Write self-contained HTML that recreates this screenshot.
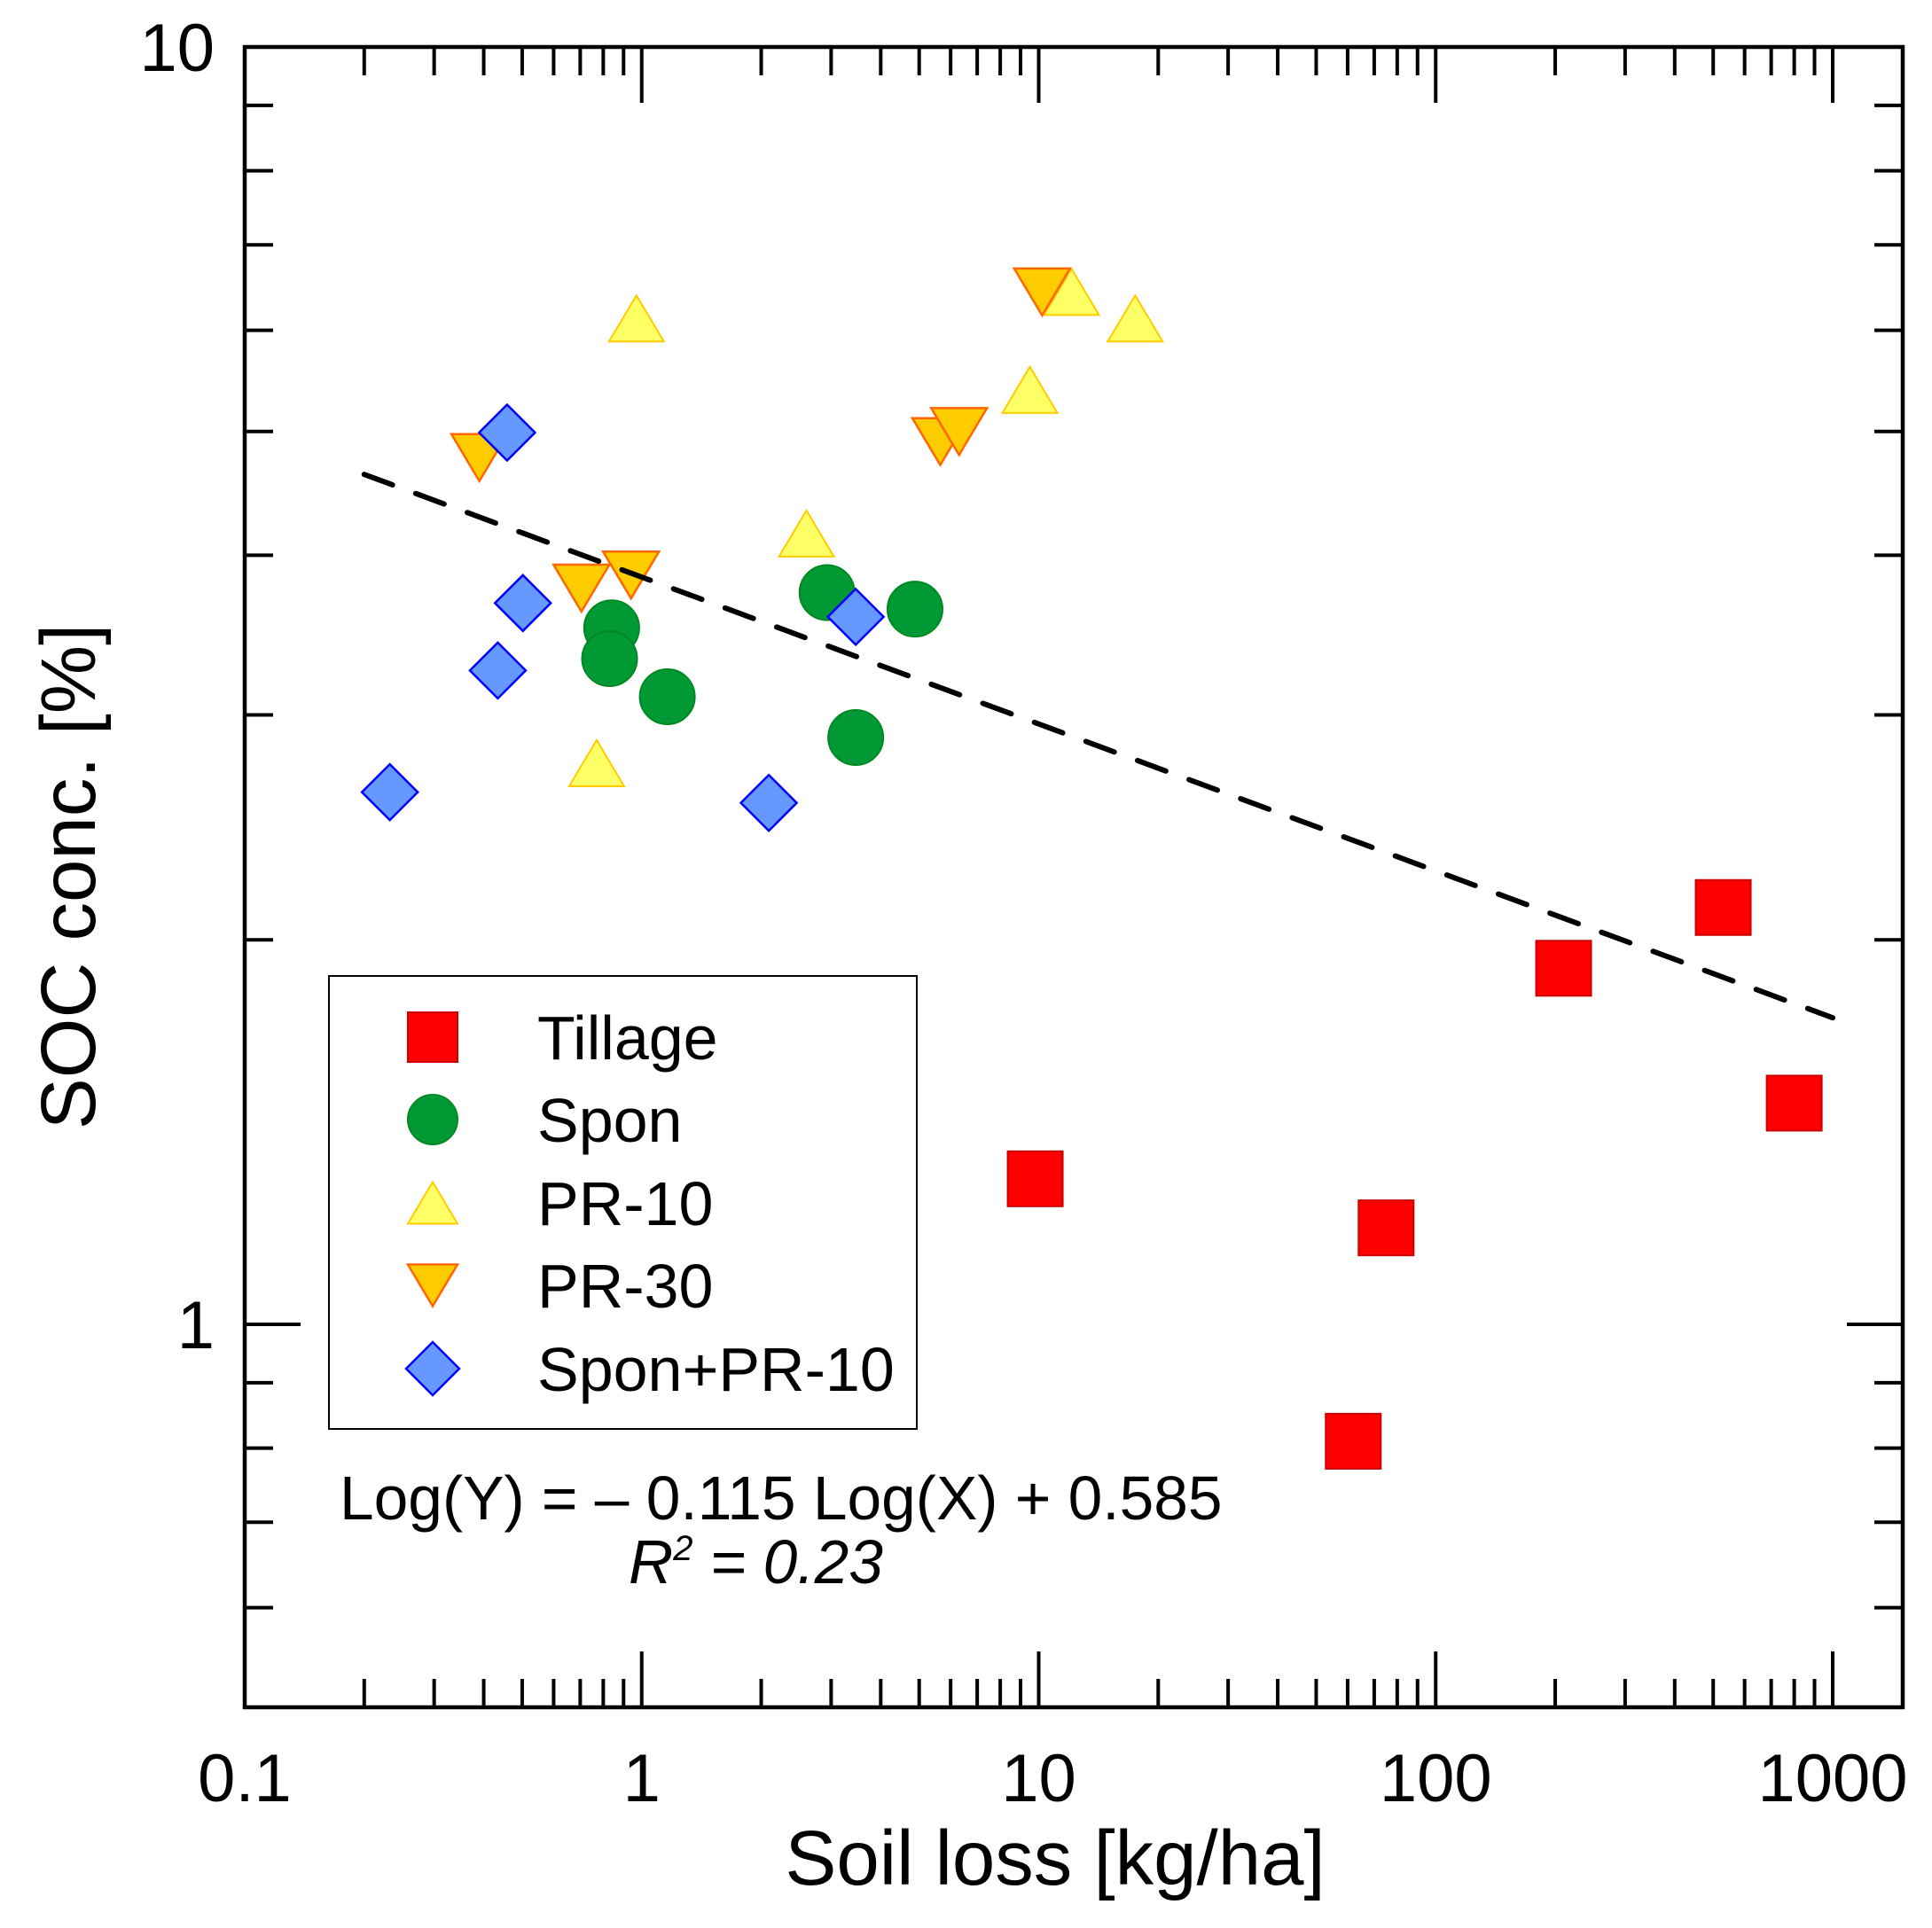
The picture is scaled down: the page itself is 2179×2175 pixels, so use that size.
<!DOCTYPE html>
<html><head><meta charset="utf-8"><style>
html,body{margin:0;padding:0;background:#fff}
svg{display:block;font-family:"Liberation Sans",Arial,sans-serif}
</style></head><body>
<svg id="chart" width="2179" height="2175" viewBox="0 0 2179 2175" xmlns="http://www.w3.org/2000/svg">
<g id="marks"></g>
<g id="axes"></g>
</svg>
<script>
const tillageX=[9.8,75,62,210,530,800];
const tillageY=[1.30,1.19,0.81,1.90,2.12,1.49];
const sponX=[0.84,0.83,1.16,2.93,4.88,3.46];
const sponY=[3.51,3.32,3.10,3.74,3.63,2.88];
const pr10X=[0.97,2.6,0.77,9.5,12.1,17.5];
const pr10Y=[6.13,4.16,2.75,5.39,6.43,6.13];
const pr30X=[0.39,0.705,0.94,5.65,6.3,10.2];
const pr30Y=[4.77,3.77,3.86,4.91,5.0,6.43];
const sponPrX=[0.458,0.502,0.434,0.232,2.09,3.46];
const sponPrY=[4.99,3.67,3.25,2.61,2.56,3.58];
const fitSlope=-0.115, fitIntercept=0.585, fitRange=[0.2,1000];
const xTickLabels=["0.1","1","10","100","1000"];
const xTickValues=[0.1,1,10,100,1000];
const yTickLabels=["10","1"];
const yTickValues=[10,1];

const NS="http://www.w3.org/2000/svg";
const L=276,R=2146,T=53,B=1926;
const DX=447.75, DY=1441;
function sx(v){return L+(Math.log10(v)+1)*DX;}
function sy(v){return T+(1-Math.log10(v))*DY;}
function mk(tag,attrs,parent){const e=document.createElementNS(NS,tag);for(const k in attrs)e.setAttribute(k,attrs[k]);parent.appendChild(e);return e;}
const marks=document.getElementById('marks');
const axes=document.getElementById('axes');

function sq(g,x,y,s){return mk('rect',{x:x-s/2,y:y-s/2,width:s,height:s,fill:'#ff0000',stroke:'#cc0000','stroke-width':2},g);}
function circ(g,x,y,s){return mk('circle',{cx:x,cy:y,r:s/2,fill:'#009933',stroke:'#008822','stroke-width':2},g);}
function tri(g,x,y,s){const h=s*0.84;return mk('polygon',{points:`${x-s/2},${y+h/2} ${x+s/2},${y+h/2} ${x},${y-h/2}`,fill:'#ffff66',stroke:'#ffcc00','stroke-width':2},g);}
function dtri(g,x,y,s){const h=s*0.84;return mk('polygon',{points:`${x-s/2},${y-h/2} ${x+s/2},${y-h/2} ${x},${y+h/2}`,fill:'#ffcc00',stroke:'#ff6600','stroke-width':2.5},g);}
function dia(g,x,y,s){const r=s/2;return mk('polygon',{points:`${x-r},${y} ${x},${y-r} ${x+r},${y} ${x},${y+r}`,fill:'#6699ff',stroke:'#0000ff','stroke-width':2.5},g);}

const series=[
 {name:'tillage',xs:tillageX,ys:tillageY,f:sq,s:62},
 {name:'spon',xs:sponX,ys:sponY,f:circ,s:62},
 {name:'pr-10',xs:pr10X,ys:pr10Y,f:tri,s:62},
 {name:'pr-30',xs:pr30X,ys:pr30Y,f:dtri,s:63},
 {name:'spon-pr-10',xs:sponPrX,ys:sponPrY,f:dia,s:63}
];
series.forEach(se=>{
 const g=mk('g',{},marks);
 
 
 se.xs.forEach((xv,i)=>{
  const el=se.f(g,sx(xv),sy(se.ys[i]),se.s);
  
  
 });
});

const fy0=Math.pow(10,fitSlope*Math.log10(fitRange[0])+fitIntercept);
const fy1=Math.pow(10,fitSlope*Math.log10(fitRange[1])+fitIntercept);
const fit=mk('line',{x1:sx(fitRange[0]),y1:sy(fy0),x2:sx(fitRange[1]),y2:sy(fy1),stroke:'#000','stroke-width':6,'stroke-dasharray':'34 28','stroke-linecap':'round'},marks);



const fr=mk('rect',{x:L,y:T,width:R-L,height:B-T,fill:'none',stroke:'#000','stroke-width':4.5},axes);



for(let d=-1;d<=3;d++){
 for(let m=1;m<=9;m++){
  const v=m*Math.pow(10,d); const x=sx(v); if(x>R)continue;
  const len=m===1?63:32;
  const t1=mk('line',{x1:x,y1:B,x2:x,y2:B-len,stroke:'#000','stroke-width':4},axes);
  
  
  const t2=mk('line',{x1:x,y1:T,x2:x,y2:T+len,stroke:'#000','stroke-width':4},axes);
  
  
 }
}
[0.6,0.7,0.8,0.9,1,2,3,4,5,6,7,8,9].forEach(v=>{
 const y=sy(v); const len=(v===1)?63:32;
 const t1=mk('line',{x1:L,y1:y,x2:L+len,y2:y,stroke:'#000','stroke-width':4},axes);
 
 
 const t2=mk('line',{x1:R,y1:y,x2:R-len,y2:y,stroke:'#000','stroke-width':4},axes);
 
 
});
xTickLabels.forEach((lab,i)=>{
 const t=mk('text',{x:sx(xTickValues[i]),y:2032,'font-size':76,'text-anchor':'middle'},axes);
 t.textContent=lab;
 
 
});
yTickLabels.forEach((lab,i)=>{
 const t=mk('text',{x:242,y:sy(yTickValues[i])+27,'font-size':76,'text-anchor':'end'},axes);
 t.textContent=lab;
 
 
});
const xt=mk('text',{x:1190,y:2126,'font-size':87,'text-anchor':'middle'},axes);
xt.textContent='Soil loss [kg/ha]';


const yt=mk('text',{x:0,y:0,'font-size':87,'text-anchor':'middle',transform:'translate(107,989) rotate(-90)'},axes);
yt.textContent='SOC conc. [%]';



const lg=mk('g',{},axes);


mk('rect',{x:371,y:1101,width:663,height:511,fill:'#fff',stroke:'#000','stroke-width':2},lg);
const legNames=['Tillage','Spon','PR-10','PR-30','Spon+PR-10'];
const legY=[1170,1263,1357,1450,1544];
const legF=[sq,circ,tri,dtri,dia];
legNames.forEach((n,i)=>{
 const e=mk('g',{},lg);
 
 
 legF[i](e,488,legY[i],i===4?60:56);
 const t=mk('text',{x:606,y:legY[i]+25,'font-size':70},e);
 t.textContent=n;
});

const eq=mk('text',{x:383,y:1714,'font-size':69.5},axes);
eq.textContent='Log(Y) = \u2013 0.115 Log(X) + 0.585';


const r2=mk('text',{x:709,y:1786,'font-size':69.5,'font-style':'italic'},axes);
r2.innerHTML='R<tspan font-size="40" dy="-26">2</tspan><tspan dy="26"> = 0.23</tspan>';


</script>
</body></html>
